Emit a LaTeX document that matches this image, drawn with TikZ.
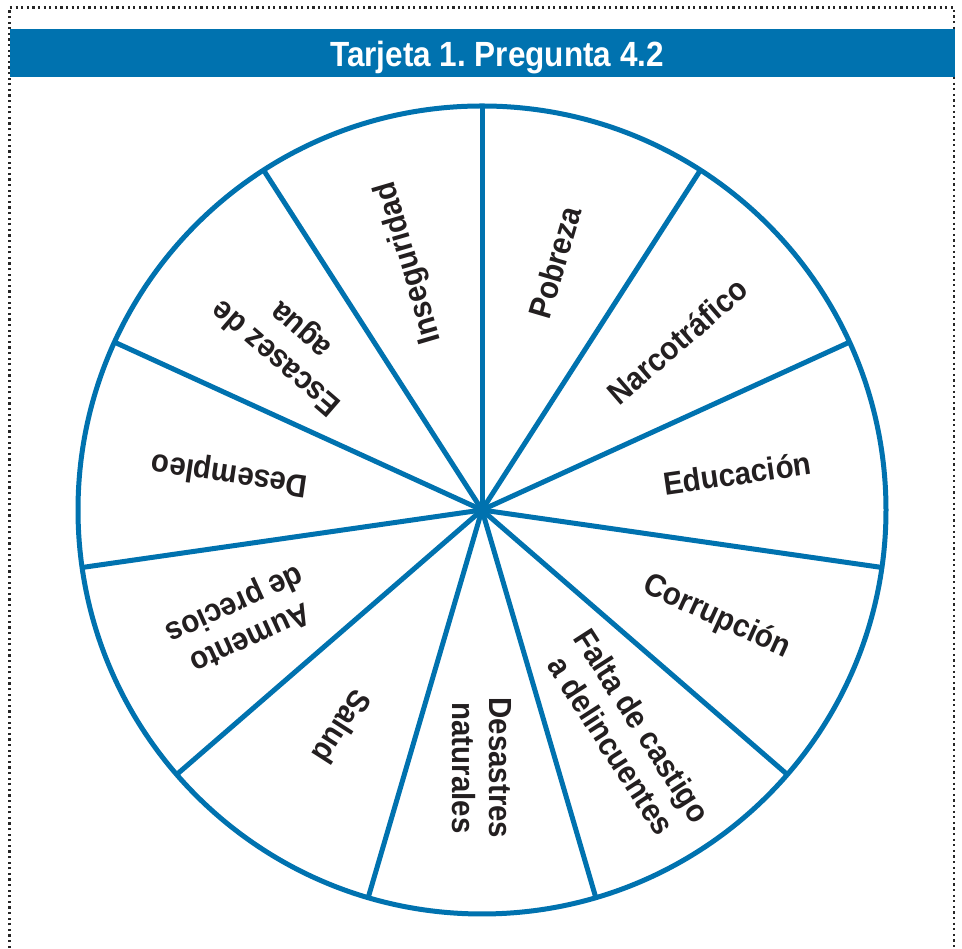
\documentclass[tikz,border=0pt]{standalone}
\usepackage{fontspec}
\setmainfont{Liberation Sans}
\usetikzlibrary{calc}
\definecolor{wheelblue}{RGB}{0,114,175}
\definecolor{ink}{RGB}{35,31,32}
\frenchspacing
\begin{document}
\begin{tikzpicture}[x=1pt,y=1pt,
  spoke/.style={draw=wheelblue, line width=5pt},
  lbl/.style={text=ink, font=\bfseries\fontsize{32}{37}\selectfont, align=center, inner sep=0pt, xscale=0.92},
  border/.style={line width=2.3pt, dash pattern=on 2.2pt off 3.4pt, draw=black!85}
]
\useasboundingbox (0,0) rectangle (962,949);
\fill[white] (0,0) rectangle (962,949);
\coordinate (bl) at (9.5,-10);
\coordinate (tl) at (9.5,941.5);
\coordinate (tr) at (954,941.5);
\coordinate (br) at (954,-10);
\draw[border] (bl) -- (tl) -- (tr) -- (br);
\node[fill=wheelblue, minimum width=945pt, minimum height=48pt, inner sep=0pt, anchor=north west] (bar) at (10,920) {};
\node[text=white, font=\bfseries\fontsize{35}{42}\selectfont, xscale=0.9, anchor=base, inner sep=0pt] (title) at (497,882) {Tarjeta 1. Pregunta 4.2};
\coordinate (c) at (482,439);
\draw[spoke] (c) circle (404);
\foreach \k in {0,...,10} {
  \coordinate (s\k) at ($(c)+({90-\k*360/11}:404)$);
  \draw[spoke] (c) -- (s\k);
}
\node[rotate=73.636, lbl] (l0) at ($(c)+(73.636:258)$) {Pobreza};
\node[rotate=40.909, lbl] (l1) at ($(c)+(40.909:258)$) {Narcotráfico};
\node[rotate=8.182, lbl] (l2) at ($(c)+(8.182:258)$) {Educación};
\node[rotate=-24.545, lbl] (l3) at ($(c)+(-24.545:258)$) {Corrupción};
\node[rotate=-57.273, lbl] (l4) at ($(c)+(-57.273:268)$) {Falta de castigo\\a delincuentes};
\node[rotate=-90, lbl] (l5) at ($(c)+(-90:258)$) {Desastres\\naturales};
\node[rotate=-122.727, lbl] (l6) at ($(c)+(-122.727:258)$) {Salud};
\node[rotate=-155.455, lbl] (l7) at ($(c)+(-155.455:264)$) {Aumento\\de precios};
\node[rotate=-188.182, lbl] (l8) at ($(c)+(-188.182:255)$) {Desempleo};
\node[rotate=-220.909, lbl] (l9) at ($(c)+(-220.909:255)$) {Escasez de\\agua};
\node[rotate=-253.636, lbl] (l10) at ($(c)+(-253.636:258)$) {Inseguridad};
\end{tikzpicture}
\end{document}
